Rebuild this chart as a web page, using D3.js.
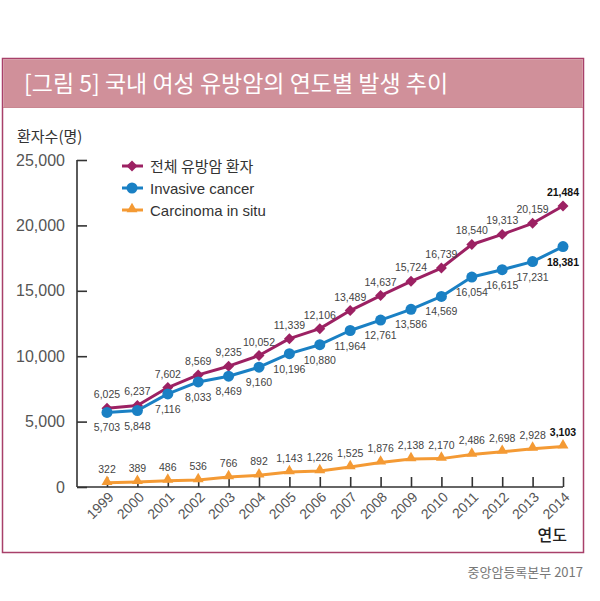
<!DOCTYPE html>
<html><head><meta charset="utf-8">
<script src="https://cdnjs.cloudflare.com/ajax/libs/d3/7.8.5/d3.min.js"></script>
<style>body{margin:0;background:#fff}svg{display:block}</style>
</head><body><svg id="c" width="600" height="601"></svg>
<script>
const years = ["1999","2000","2001","2002","2003","2004","2005","2006","2007","2008","2009","2010","2011","2012","2013","2014"];
const totalPatients = [6025,6237,7602,8569,9235,10052,11339,12106,13489,14637,15724,16739,18540,19313,20159,21484];
const invasiveCancer = [5703,5848,7116,8033,8469,9160,10196,10880,11964,12761,13586,14569,16054,16615,17231,18381];
const carcinomaInSitu = [322,389,486,536,766,892,1143,1226,1525,1876,2138,2170,2486,2698,2928,3103];
const yTicks = [0,5000,10000,15000,20000,25000];
const seriesNames = ["전체 유방암 환자","Invasive cancer","Carcinoma in situ"];
const title = "[그림 5] 국내 여성 유방암의 연도별 발생 추이";
const yTitle = "환자수(명)";
const xTitle = "연도";
const source = "중앙암등록본부 2017";

const svg = d3.select("#c");
const KR = "'Noto Sans CJK KR','Noto Sans',sans-serif";
const LAT = "'Liberation Sans',Arial,sans-serif";

// frame
svg.append("rect").attr("x",2.5).attr("y",58.5).attr("width",581).attr("height",494)
  .attr("fill","#fff").attr("stroke","#a8406a").attr("stroke-width",1.5);
svg.append("rect").attr("x",3.25).attr("y",59.25).attr("width",579.5).attr("height",48)
  .attr("fill","#d0909a");
svg.append("line").attr("x1",3).attr("x2",583).attr("y1",107.5).attr("y2",107.5).attr("stroke","#c98791");
svg.append("text").attr("x",24).attr("y",92).attr("fill","#fff").attr("font-family",KR)
  .attr("font-size",23).text(title);

const x = d3.scalePoint().domain(years).range([107,563]);
const y = d3.scaleLinear().domain([0,25000]).range([487,160]);

svg.append("text").attr("x",17).attr("y",142).attr("fill","#333").attr("font-family",KR)
  .attr("font-size",15).text(yTitle);

// y axis
const ya = svg.append("g").attr("transform","translate(77,0)")
  .call(d3.axisLeft(y).tickValues(yTicks).tickSize(-10).tickPadding(12).tickFormat(d3.format(",")));
ya.select(".domain").attr("stroke","#333").attr("stroke-width",1.6).attr("d","M0,160V487");
ya.selectAll(".tick line").attr("stroke","#333").attr("stroke-width",1.6);
ya.selectAll(".tick text").attr("font-family",LAT).attr("font-size",16).attr("fill","#555").attr("font-weight",300);

// x axis
const xa = svg.append("g").attr("transform","translate(0,487)")
  .call(d3.axisBottom(x).tickSize(-10).tickPadding(0));
xa.select(".domain").attr("stroke","#333").attr("stroke-width",1.6).attr("d","M77,0H563");
xa.selectAll(".tick line").attr("stroke","#333").attr("stroke-width",1.6);
xa.selectAll(".tick text").attr("font-family",LAT).attr("font-size",14).attr("fill","#555")
  .attr("text-anchor","end").attr("dy",null).attr("y",null)
  .attr("transform","translate(7,11) rotate(-45)");

svg.append("text").attr("x",567).attr("y",541).attr("text-anchor","end").attr("fill","#222")
  .attr("font-family",KR).attr("font-size",16).attr("font-weight",500).text(xTitle);
svg.append("text").attr("x",583).attr("y",577).attr("text-anchor","end").attr("fill","#777")
  .attr("font-family",KR).attr("font-size",13).text(source);

const series = [
  {name:seriesNames[0], vals:totalPatients, color:"#9c2163", sym:"diamond", pos:"above"},
  {name:seriesNames[1], vals:invasiveCancer, color:"#1a80c4", sym:"circle", pos:"below"},
  {name:seriesNames[2], vals:carcinomaInSitu, color:"#f49a34", sym:"triangle", pos:"above"}
];
function symPath(s){
  if(s==="diamond") return d3.symbol(d3.symbolSquare,60)();
  if(s==="circle") return d3.symbol(d3.symbolCircle,95)();
  return d3.symbol(d3.symbolTriangle,52)();
}
function symTransform(s,px,py){
  return s==="diamond" ? `translate(${px},${py}) rotate(45)` : s==="triangle" ? `translate(${px},${py-1})` : `translate(${px},${py})`;
}
const line = d3.line().x((d,i)=>x(years[i])).y(d=>y(d));
const fmt = d3.format(",");
series.forEach(s=>{
  svg.append("path").datum(s.vals).attr("d",line).attr("fill","none")
    .attr("stroke",s.color).attr("stroke-width",3).attr("stroke-linejoin","round");
  svg.append("g").selectAll("path").data(s.vals).join("path")
    .attr("d",symPath(s.sym)).attr("fill",s.color)
    .attr("transform",(d,i)=>symTransform(s.sym,x(years[i]),y(d)));
  svg.append("g").selectAll("text").data(s.vals).join("text")
    .attr("x",(d,i)=>x(years[i]))
    .attr("y",d=> s.pos==="above" ? y(d)-10 : y(d)+19)
    .attr("text-anchor","middle").attr("font-family",LAT).attr("font-size",10.5)
    .attr("fill",(d,i)=> i===years.length-1 ? "#111" : "#444")
    .attr("font-weight",(d,i)=> i===years.length-1 ? "bold" : "normal")
    .text(d=>fmt(d));
});

// legend
const lg = svg.append("g");
series.forEach((s,i)=>{
  const ly = 166 + i*22;
  lg.append("line").attr("x1",122).attr("x2",143).attr("y1",ly).attr("y2",ly)
    .attr("stroke",s.color).attr("stroke-width",3);
  lg.append("path").attr("d",symPath(s.sym)).attr("fill",s.color)
    .attr("transform",symTransform(s.sym,132,ly));
  lg.append("text").attr("x",150).attr("y",ly+5.5).attr("fill","#333")
    .attr("font-family", i===0 ? KR : LAT).attr("font-size",15).text(s.name);
});
</script></body></html>
